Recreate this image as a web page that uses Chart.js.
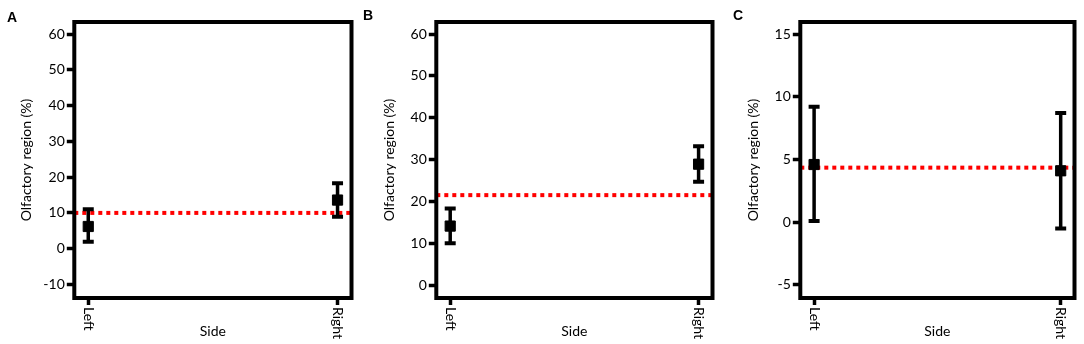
<!DOCTYPE html>
<html>
<head>
<meta charset="utf-8">
<script src="https://cdn.jsdelivr.net/npm/chart.js@4.4.0/dist/chart.umd.min.js"></script>
<style>
  html, body { margin: 0; padding: 0; background: #fff; }
  #wrap { position: relative; width: 1084px; height: 344px; overflow: hidden; }
  canvas { position: absolute; top: 0; }
  .tag { position: absolute; font: bold 14px "Liberation Sans", Arial, sans-serif; line-height: 1; color: #000; }
</style>
</head>
<body>
<div id="wrap">
  <canvas id="chartA" width="361" height="344" style="left:0"></canvas>
  <canvas id="chartB" width="361" height="344" style="left:361px"></canvas>
  <canvas id="chartC" width="362" height="344" style="left:722px"></canvas>
  <div class="tag" style="left:7px;top:10px">A</div>
  <div class="tag" style="left:363px;top:8px">B</div>
  <div class="tag" style="left:733px;top:7.5px">C</div>
</div>
<script>
// Categories
const sides = ['Left', 'Right'];

// Panel A
const meanA = [6.2, 13.6];
const lowA = [1.9, 8.9];
const highA = [11.0, 18.3];
const refA = 10.0;
const ticksA = [-10, 0, 10, 20, 30, 40, 50, 60];

// Panel B
const meanB = [14.1, 28.9];
const lowB = [10.0, 24.7];
const highB = [18.3, 33.2];
const refB = 21.5;
const ticksB = [0, 10, 20, 30, 40, 50, 60];

// Panel C
const meanC = [4.6, 4.1];
const lowC = [0.1, -0.5];
const highC = [9.2, 8.7];
const refC = 4.35;
const ticksC = [-5, 0, 5, 10, 15];

const X_MIN = -0.056;
const X_MAX = 1.056;
const FONT = 'Lato';

// Build the datasets for one panel
function buildDatasets(mean, low, high, ref) {
    const sets = [{
        type: 'line',
        data: [{ x: X_MIN, y: ref }, { x: X_MAX, y: ref }],
        borderColor: '#ff0000',
        borderWidth: 4,
        borderDash: [4, 4],
        pointRadius: 0,
        order: 3
    }];
    sides.forEach((s, i) => {
        sets.push({
            type: 'line',
            data: [{ x: i, y: low[i] }, { x: i, y: high[i] }],
            borderColor: '#000',
            borderWidth: 3.5,
            pointStyle: 'line',
            pointRadius: 5.5,
            pointBorderWidth: 4,
            pointBorderColor: '#000',
            order: 2
        });
    });
    sets.push({
        type: 'scatter',
        data: mean.map((m, i) => ({ x: i, y: m })),
        pointStyle: 'rect',
        pointRadius: 7.2,
        backgroundColor: '#000',
        borderColor: '#000',
        borderWidth: 1,
        order: 1
    });
    return sets;
}

// Box around the plot area
const frame = {
    id: 'frame',
    afterDatasetsDraw(chart) {
        const { ctx, chartArea: a } = chart;
        ctx.save();
        ctx.lineWidth = 4;
        ctx.strokeStyle = '#000';
        ctx.strokeRect(a.left, a.top, a.right - a.left, a.bottom - a.top);
        ctx.restore();
    }
};

// Category labels turned clockwise under the x ticks
const sideLabels = {
    id: 'sideLabels',
    afterDraw(chart) {
        const { ctx, chartArea: a } = chart;
        const xs = chart.scales.x;
        ctx.save();
        ctx.fillStyle = '#000';
        ctx.font = '14px ' + FONT;
        ctx.textAlign = 'left';
        ctx.textBaseline = 'middle';
        xs.ticks.forEach((t, i) => {
            ctx.save();
            ctx.translate(xs.getPixelForValue(t.value), a.bottom + 9);
            ctx.rotate(Math.PI / 2);
            ctx.fillText(sides[i], 0, 0);
            ctx.restore();
        });
        ctx.restore();
    }
};

function makeChart(id, cfg) {
    const ctx = document.getElementById(id).getContext('2d');
    return new Chart(ctx, {
        type: 'scatter',
        data: { datasets: buildDatasets(cfg.mean, cfg.low, cfg.high, cfg.ref) },
        options: {
            responsive: false,
            animation: false,
            events: [],
            layout: { padding: { left: 0, right: cfg.padRight, top: 22, bottom: 0 } },
            plugins: { legend: { display: false }, tooltip: { enabled: false } },
            scales: {
                x: {
                    type: 'linear',
                    min: X_MIN,
                    max: X_MAX,
                    afterBuildTicks: s => { s.ticks = sides.map((c, i) => ({ value: i })); },
                    afterFit: s => { s.height = 46; },
                    grid: { drawOnChartArea: false, drawTicks: true, tickLength: 7, tickWidth: 3.5, tickColor: '#000' },
                    border: { display: false },
                    ticks: { display: false },
                    title: {
                        display: true, text: 'Side', color: '#000',
                        font: { family: FONT, size: 14, lineHeight: 1.2 },
                        padding: { top: 0, bottom: 4 }
                    }
                },
                y: {
                    type: 'linear',
                    min: cfg.min,
                    max: cfg.max,
                    afterBuildTicks: s => { s.ticks = cfg.ticks.map(v => ({ value: v })); },
                    afterFit: s => { s.width = cfg.axisWidth; },
                    grid: { drawOnChartArea: false, drawTicks: true, tickLength: 7.5, tickWidth: 3.5, tickColor: '#000' },
                    border: { display: false },
                    ticks: { color: '#000', font: { family: FONT, size: 14 }, padding: 2 },
                    title: {
                        display: true, text: 'Olfactory region (%)', color: '#000',
                        font: { family: FONT, size: 14, lineHeight: 1.2 },
                        padding: { top: cfg.titlePad, bottom: 0 }
                    }
                }
            }
        },
        plugins: [frame, sideLabels]
    });
}

document.addEventListener('DOMContentLoaded', () => {
    makeChart('chartA', { mean: meanA, low: lowA, high: highA, ref: refA, ticks: ticksA,
        min: -13.8, max: 63.4, axisWidth: 74.3, padRight: 8, titlePad: 17.6 });
    makeChart('chartB', { mean: meanB, low: lowB, high: highB, ref: refB, ticks: ticksB,
        min: -3.1, max: 62.9, axisWidth: 75.3, padRight: 5.5, titlePad: 19.9 });
    makeChart('chartC', { mean: meanC, low: lowC, high: highC, ref: refC, ticks: ticksC,
        min: -6.04, max: 15.96, axisWidth: 78.3, padRight: 4.3, titlePad: 22.9 });
});
</script>
</body>
</html>
